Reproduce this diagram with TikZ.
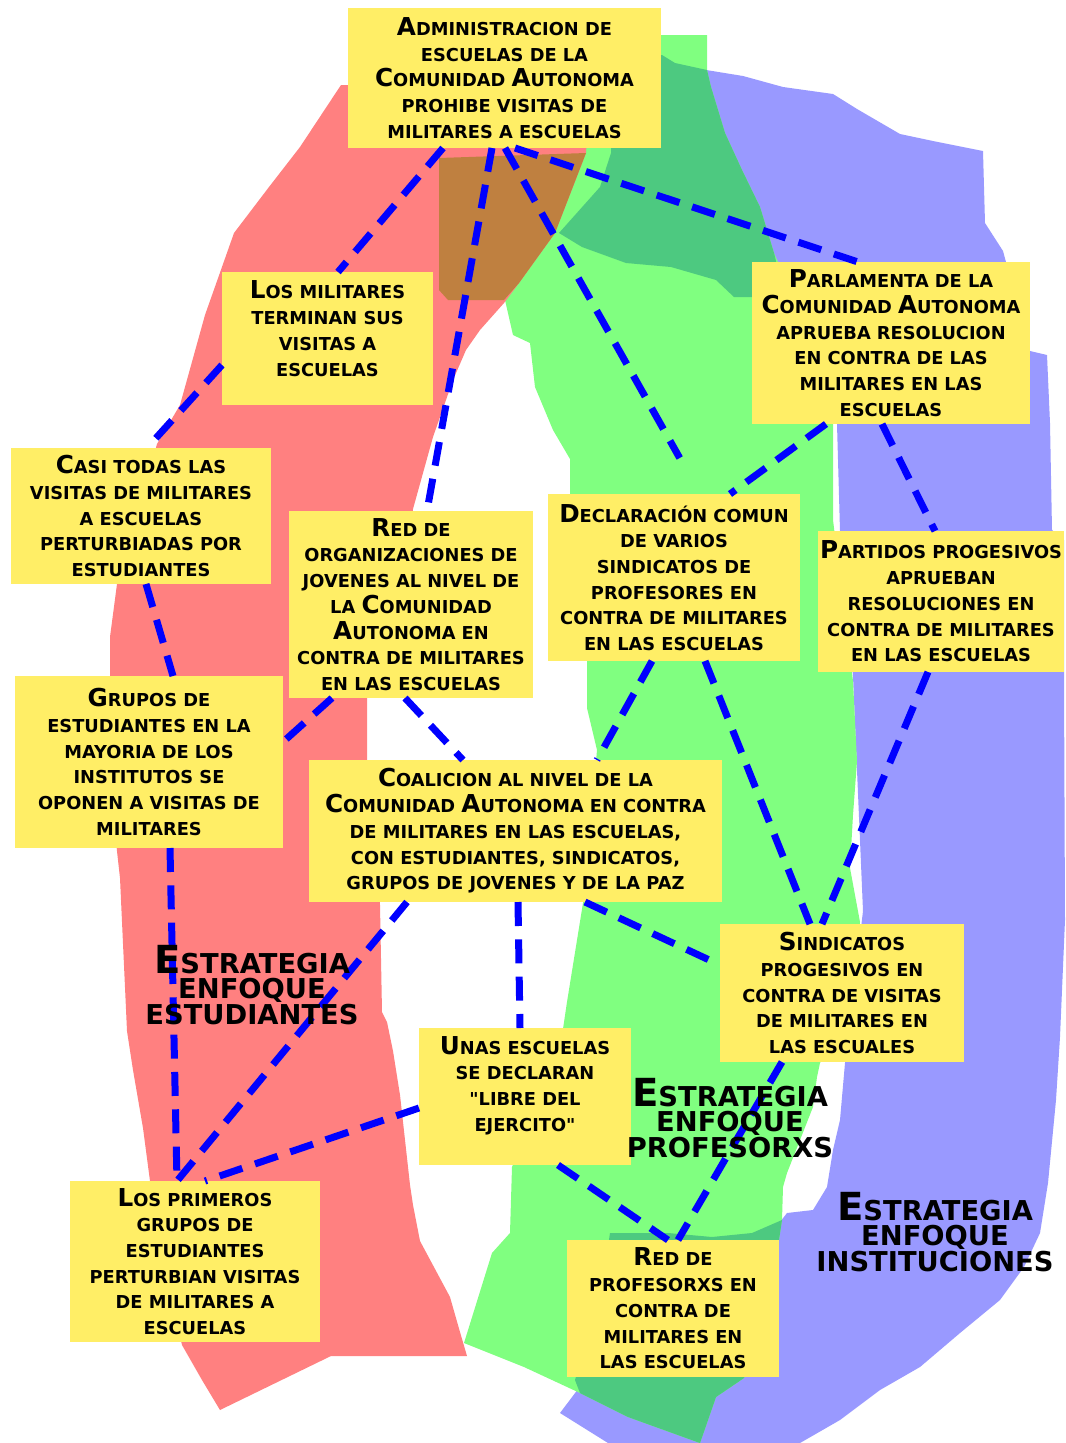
\documentclass[tikz,border=0pt]{standalone}
\usepackage{fontspec}
\setmainfont{DejaVu Sans}[Ligatures=TeXOff]
\usetikzlibrary{calc}
\definecolor{rojo}{RGB}{255,128,128}
\definecolor{verde}{RGB}{128,255,128}
\definecolor{azul}{RGB}{153,153,255}
\definecolor{verdeosc}{RGB}{77,201,128}
\definecolor{marron}{RGB}{191,128,64}
\definecolor{amarillo}{RGB}{255,238,102}
\newcommand{\ini}[1]{{\fontsize{18.5}{19.3}\selectfont #1}}
\newcommand{\inigr}[1]{{\fontsize{29}{19.5}\selectfont #1}}
\newcommand{\tightlines}{\lineskiplimit=-100pt\relax}
\newcommand{\qq}{\symbol{34}}
\def\px{0.75pt}
\tikzset{
        box/.style={fill=amarillo,inner sep=0pt,outer sep=0pt,align=center,
          font=\fontsize{13.35}{19.3}\selectfont\bfseries\tightlines},
        link/.style={blue,line width=5.25pt,dash pattern=on 18pt off 10pt},
        strat/.style={align=center,inner sep=0pt,
          font=\fontsize{20.5}{19}\selectfont\bfseries\tightlines},
        }

\begin{document}
\begin{tikzpicture}[x=0.75pt,y=-0.75pt]
			\useasboundingbox (0,0) rectangle (1066,1443);
			\fill [white] (0,0) rectangle (1066,1443);

			% blue area
			\fill [azul] (700,69) -- (743,76) -- (783,87) -- (833,94) -- (857,109) -- (900,134)
				-- (933,141) -- (983,151) -- (985,223) -- (1003,251) -- (1030,351) -- (1047,355)
				-- (1050,423) -- (1052,530) -- (1064,540) -- (1064,680) -- (1065,920) -- (1060,1037)
				-- (1056,1100) -- (1048,1183) -- (1040,1233) -- (1024,1267) -- (1000,1300)
				-- (960,1333) -- (920,1367) -- (880,1390) -- (840,1420) -- (800,1443) -- (608,1443)
				-- (560,1413) -- (600,1360) -- (640,1300) -- (700,1237) -- (780,1222) -- (787,1213)
				-- (813,1210) -- (827,1187) -- (833,1150) -- (840,1120) -- (845,1063) -- (863,911)
				-- (853,676) -- (840,531) -- (837,424) -- (840,300) -- (760,280) -- cycle;

			% green area
			\fill [verde] (600,35) -- (707,35) -- (707,70) -- (711,87) -- (725,133) -- (742,170)
				-- (760,207) -- (774,253) -- (795,300) -- (833,424) -- (833,520) -- (853,681)
				-- (857,761) -- (853,815) -- (850,868) -- (860,922) -- (855,1000) -- (820,1063)
				-- (817,1077) -- (813,1107) -- (800,1140) -- (787,1173) -- (783,1187) -- (782,1220)
				-- (770,1300) -- (744,1378) -- (716,1397) -- (700,1443) -- (628,1417) -- (580,1393)
				-- (524,1367) -- (464,1343) -- (492,1253) -- (510,1233) -- (512,1167) -- (540,1100)
				-- (563,1029) -- (567,1002) -- (583,903) -- (590,830) -- (597,750) -- (587,708)
				-- (587,661) -- (575,580) -- (570,494) -- (570,459) -- (553,430) -- (535,387)
				-- (530,343) -- (513,335) -- (505,300) -- (470,250) -- (540,150) -- (600,140) -- cycle;

			% red area
			\fill [rojo] (341,85) -- (590,85) -- (586,153) -- (555,233) -- (519,283) -- (504,303)
				-- (480,330) -- (466,350) -- (453,380) -- (433,437) -- (413,509) -- (400,600)
				-- (367,698) -- (367,760) -- (375,830) -- (380,905) -- (382,1012) -- (387,1022)
				-- (393,1051) -- (400,1095) -- (410,1185) -- (413,1205) -- (420,1241) -- (450,1297)
				-- (460,1332) -- (467,1356) -- (331,1356) -- (220,1410) -- (202,1380) -- (182,1345)
				-- (160,1250) -- (150,1181) -- (143,1128) -- (133,1070) -- (127,1031) -- (120,878)
				-- (117,851) -- (110,780) -- (110,637) -- (117,584) -- (157,444) -- (180,405)
				-- (205,315) -- (234,233) -- (269,187) -- (300,147) -- cycle;

			% overlaps
			\fill [verdeosc] (611,153) -- (611,70) -- (662,55) -- (675,63) -- (707,70) -- (711,87)
				-- (725,133) -- (742,170) -- (760,207) -- (774,253) -- (785,297) -- (734,297)
				-- (716,280) -- (671,267) -- (626,263) -- (582,247) -- (559,233) -- (600,187) -- cycle;
			\fill [verdeosc] (610,1233) -- (668,1233) -- (712,1237) -- (752,1233) -- (782,1220)
				-- (770,1300) -- (744,1378) -- (716,1397) -- (700,1443) -- (628,1417) -- (580,1393)
				-- (575,1380) -- (600,1300) -- cycle;
			\fill [marron] (439,158) -- (586,153) -- (555,233) -- (519,283) -- (504,300)
				-- (448,300) -- (439,290) -- cycle;

			% boxes
			\node [box, minimum width=313*\px, minimum height=140*\px] (adm) at (504.5,78)
				{\ini{A}DMINISTRACION DE\\ESCUELAS DE LA\\\ini{C}OMUNIDAD \ini{A}UTONOMA\\PROHIBE VISITAS DE\\MILITARES A ESCUELAS};
			\node [box, minimum width=211*\px, minimum height=133*\px] (mil) at (327.5,338.5)
				{\ini{L}OS MILITARES\\TERMINAN SUS\\VISITAS A\\ESCUELAS\\[-4.3pt]\mbox{}};
			\node [box, minimum width=260*\px, minimum height=136*\px] (casi) at (141,516)
				{\ini{C}ASI TODAS LAS\\VISITAS DE MILITARES\\A ESCUELAS\\PERTURBIADAS POR\\ESTUDIANTES};
			\node [box, minimum width=244*\px, minimum height=187*\px] (redj) at (411,604.5)
				{\ini{R}ED DE\\ORGANIZACIONES DE\\JOVENES AL NIVEL DE\\LA \ini{C}OMUNIDAD\\\ini{A}UTONOMA EN\\CONTRA DE MILITARES\\EN LAS ESCUELAS};
			\node [box, minimum width=252*\px, minimum height=167*\px] (decl) at (674,577.5)
				{\ini{D}ECLARACIÓN COMUN\\DE VARIOS\\SINDICATOS DE\\PROFESORES EN\\CONTRA DE MILITARES\\EN LAS ESCUELAS};
			\node [box, minimum width=278*\px, minimum height=162*\px] (parl) at (891,343)
				{\ini{P}ARLAMENTA DE LA\\\ini{C}OMUNIDAD \ini{A}UTONOMA\\APRUEBA RESOLUCION\\EN CONTRA DE LAS\\MILITARES EN LAS\\ESCUELAS};
			\node [box, minimum width=246*\px, minimum height=141*\px] (part) at (941,601.5)
				{\ini{P}ARTIDOS PROGESIVOS\\APRUEBAN\\RESOLUCIONES EN\\CONTRA DE MILITARES\\EN LAS ESCUELAS};
			\node [box, minimum width=268*\px, minimum height=172*\px] (grup) at (149,762)
				{\ini{G}RUPOS DE\\ESTUDIANTES EN LA\\MAYORIA DE LOS\\INSTITUTOS SE\\OPONEN A VISITAS DE\\MILITARES};
			\node [box, minimum width=413*\px, minimum height=142*\px] (coal) at (515.5,831)
				{\ini{C}OALICION AL NIVEL DE LA\\\ini{C}OMUNIDAD \ini{A}UTONOMA EN CONTRA\\DE MILITARES EN LAS ESCUELAS,\\CON ESTUDIANTES, SINDICATOS,\\GRUPOS DE JOVENES Y DE LA PAZ};
			\node [box, minimum width=244*\px, minimum height=138*\px] (sind) at (842,993)
				{\ini{S}INDICATOS\\PROGESIVOS EN\\CONTRA DE VISITAS\\DE MILITARES EN\\LAS ESCUALES};
			\node [box, minimum width=212*\px, minimum height=137*\px] (unas) at (525,1096.5)
				{\ini{U}NAS ESCUELAS\\SE DECLARAN\\\qq LIBRE DEL\\EJERCITO\qq\\\mbox{}};
			\node [box, minimum width=250*\px, minimum height=161*\px] (prim) at (195,1261.5)
				{\ini{L}OS PRIMEROS\\GRUPOS DE\\ESTUDIANTES\\PERTURBIAN VISITAS\\DE MILITARES A\\ESCUELAS};
			\node [box, minimum width=212*\px, minimum height=137*\px] (redp) at (673,1308.5)
				{\ini{R}ED DE\\PROFESORXS EN\\CONTRA DE\\MILITARES EN\\LAS ESCUELAS};

			% links
			\draw [link] ($(adm.south west)+(95,0)$) -- ($(mil.north west)+(116,0)$);
			\draw [link] ($(mil.south west)+(0,-40)$) -- ($(casi.north west)+(136,0)$);
			\draw [link] ($(casi.south west)+(135,0)$) -- ($(grup.north west)+(158,0)$);
			\draw [link] ($(grup.south west)+(155,0)$) -- ($(prim.north west)+(107,0)$);
			\draw [link] ($(adm.south west)+(144,0)$) -- ($(redj.north west)+(138,0)$);
			\draw [link, shorten >=31pt] ($(adm.south west)+(157,0)$) -- ($(decl.north west)+(152,0)$);
			\draw [link] ($(adm.south west)+(167,0)$) -- ($(parl.north west)+(106,0)$);
			\draw [link] ($(parl.south west)+(74,0)$) -- ($(decl.north west)+(182,0)$);
			\draw [link] ($(parl.south west)+(130,0)$) -- ($(part.north west)+(117,0)$);
			\draw [link] ($(decl.south west)+(104,0)$) -- ($(coal.north west)+(288,0)$);
			\draw [link] ($(decl.south west)+(157,0)$) -- ($(sind.north west)+(90,0)$);
			\draw [link] ($(part.south west)+(110,0)$) -- ($(sind.north west)+(102,0)$);
			\draw [link] ($(redj.south west)+(43,0)$) -- ($(grup.north east)+(0,66)$);
			\draw [link] ($(redj.south west)+(116,0)$) -- ($(coal.north west)+(154,0)$);
			\draw [link] ($(coal.south west)+(98,0)$) -- ($(prim.north west)+(107,0)$);
			\draw [link] ($(coal.south west)+(209,0)$) -- ($(unas.north west)+(101,0)$);
			\draw [link] ($(coal.south west)+(276,0)$) -- ($(sind.north west)+(0,41)$);
			\draw [link] ($(unas.north west)+(0,80)$) -- ($(prim.north west)+(135,0)$);
			\draw [link] ($(unas.south west)+(139,0)$) -- ($(redp.north west)+(101,0)$);
			\draw [link] ($(sind.south west)+(62,0)$) -- ($(redp.north west)+(111,0)$);

			% strategy labels
			\node [strat] (estud) at (252,985) {\inigr{E}STRATEGIA\\ENFOQUE\\ESTUDIANTES};
			\node [strat] (profe) at (730,1118) {\inigr{E}STRATEGIA\\ENFOQUE\\PROFESORXS};
			\node [strat] (insti) at (935,1232) {\inigr{E}STRATEGIA\\ENFOQUE\\INSTITUCIONES};
		\end{tikzpicture}
\end{document}
